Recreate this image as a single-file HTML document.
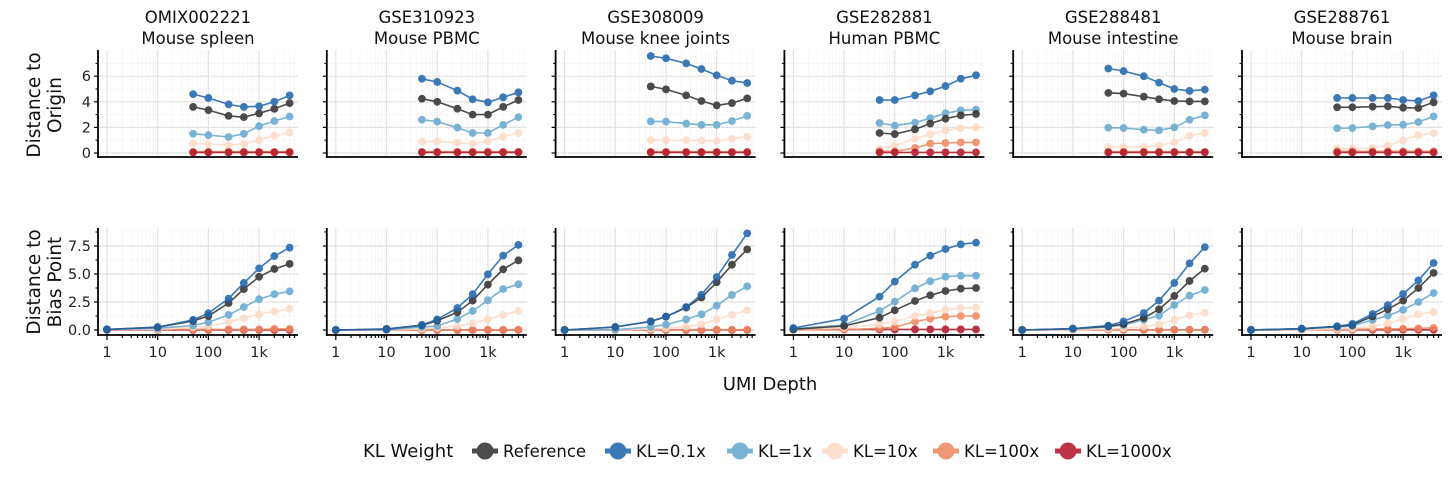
<!DOCTYPE html>
<html><head><meta charset="utf-8">
<style>
body{margin:0;background:#fff;}
svg{display:block;font-family:"DejaVu Sans","Liberation Sans",sans-serif;}
</style></head>
<body>
<svg id="chart" width="1456" height="482" xmlns="http://www.w3.org/2000/svg"></svg>
<script>
const datasets = ["OMIX002221","GSE310923","GSE308009","GSE282881","GSE288481","GSE288761"];
const tissues = ["Mouse spleen","Mouse PBMC","Mouse knee joints","Human PBMC","Mouse intestine","Mouse brain"];
const seriesNames = ["Reference","KL=0.1x","KL=1x","KL=10x","KL=100x","KL=1000x"];
const depthsTop = [50,100,250,500,1000,2000,4000];
const depthsBottom = [1,10,50,100,250,500,1000,2000,4000];
const xTickVals = [1,10,100,1000];
const xTickLabels = ["1","10","100","1k"];
const yTopTicks = [0,2,4,6];
const yTopTickLabels = ["0","2","4","6"];
const yBotTicks = [0,2.5,5,7.5];
const yBotTickLabels = ["0.0","2.5","5.0","7.5"];

const originRef = [
 [3.6,3.35,2.9,2.8,3.1,3.45,3.9],[4.24,4.0,3.46,3.0,3.0,3.6,4.14],[5.2,4.97,4.5,4.06,3.72,3.9,4.27],
 [1.56,1.48,1.85,2.3,2.68,2.94,3.05],[4.7,4.64,4.4,4.2,4.06,4.03,4.03],[3.57,3.57,3.62,3.65,3.54,3.52,3.96]];
const originKL01 = [
 [4.6,4.3,3.8,3.6,3.65,4.0,4.5],[5.8,5.55,4.87,4.2,3.96,4.35,4.74],[7.58,7.4,7.0,6.56,6.07,5.65,5.47],
 [4.14,4.14,4.5,4.82,5.23,5.8,6.07],[6.6,6.4,6.0,5.5,5.0,4.85,4.95],[4.3,4.3,4.3,4.3,4.14,4.06,4.5]];
const originKL1 = [
 [1.5,1.4,1.25,1.5,2.1,2.5,2.85],[2.6,2.45,1.98,1.56,1.56,2.2,2.8],[2.47,2.45,2.3,2.2,2.2,2.5,2.9],
 [2.34,2.14,2.37,2.73,3.1,3.33,3.39],[1.98,1.95,1.82,1.77,2.0,2.6,2.94],[1.93,1.95,2.08,2.19,2.21,2.42,2.86]];
const originKL10 = [
 [0.75,0.7,0.6,0.7,1.0,1.35,1.6],[0.9,0.9,0.8,0.73,0.9,1.28,1.56],[1.0,1.0,1.0,0.96,0.96,1.1,1.28],
 [0.34,0.57,1.1,1.48,1.77,1.93,1.98],[0.47,0.47,0.47,0.57,0.83,1.35,1.56],[0.34,0.34,0.39,0.57,0.99,1.38,1.56]];
const originKL100 = [
 [0.1,0.1,0.1,0.1,0.1,0.1,0.1],[0.1,0.1,0.1,0.1,0.1,0.1,0.1],[0.1,0.1,0.1,0.1,0.1,0.1,0.1],
 [0.13,0.13,0.4,0.73,0.78,0.83,0.83],[0.1,0.1,0.1,0.1,0.1,0.1,0.1],[0.13,0.13,0.13,0.13,0.13,0.13,0.13]];
const originKL1000 = [
 [0.05,0.05,0.05,0.05,0.05,0.05,0.05],[0.05,0.05,0.05,0.05,0.05,0.05,0.05],[0.05,0.05,0.05,0.05,0.05,0.05,0.05],
 [0.05,0.05,0.05,0.05,0.05,0.05,0.05],[0.05,0.05,0.05,0.05,0.05,0.05,0.05],[0.05,0.05,0.05,0.05,0.05,0.05,0.05]];

const biasRef = [
 [0.05,0.25,0.8,1.25,2.4,3.65,4.75,5.45,5.9],[0,0.1,0.42,0.83,1.58,2.62,4.05,5.42,6.22],[0,0.27,0.77,1.19,2.0,2.9,4.26,5.83,7.2],
 [0.06,0.36,1.1,1.76,2.59,3.1,3.48,3.69,3.75],[0,0.12,0.33,0.54,1.07,1.85,3.04,4.38,5.48],[0,0.12,0.3,0.45,1.22,1.85,2.62,3.75,5.1]];
const biasKL01 = [
 [0.05,0.25,0.9,1.5,2.8,4.2,5.5,6.6,7.35],[0,0.06,0.45,0.95,1.96,3.2,4.97,6.64,7.6],[0,0.27,0.77,1.19,2.05,3.15,4.73,6.7,8.63],
 [0.18,1.01,2.98,4.32,5.83,6.64,7.23,7.65,7.8],[0,0.12,0.39,0.77,1.52,2.62,4.2,5.95,7.4],[0,0.12,0.33,0.54,1.43,2.23,3.21,4.43,5.98]];
const biasKL1 = [
 [0.05,0.15,0.4,0.7,1.35,2.05,2.75,3.2,3.45],[0,0.03,0.27,0.36,0.98,1.7,2.65,3.66,4.08],[0,0.03,0.27,0.48,0.95,1.4,2.17,3.13,3.9],
 [0.12,0.45,1.7,2.53,3.72,4.35,4.76,4.85,4.85],[0,0.1,0.27,0.45,0.92,1.28,2.23,3.07,3.57],[0,0.1,0.27,0.36,0.9,1.28,1.8,2.5,3.3]];
const biasKL10 = [
 [0.05,0.05,0.25,0.35,0.7,1.05,1.4,1.65,1.9],[0,0,0.1,0.2,0.35,0.6,0.95,1.35,1.7],[0,0,0.1,0.15,0.3,0.5,0.95,1.35,1.75],
 [0.05,0.2,0.5,0.75,1.25,1.5,1.8,1.95,2.0],[0,0,0.1,0.15,0.3,0.5,0.9,1.3,1.55],[0,0.02,0.1,0.15,0.3,0.6,1.0,1.4,1.6]];
const biasKL100 = [
 [0.05,0.05,0.05,0.05,0.05,0.05,0.05,0.1,0.1],[0.02,0.02,0.02,0.02,0.02,0.02,0.02,0.02,0.02],[0.03,0.03,0.03,0.03,0.03,0.03,0.03,0.03,0.03],
 [0.02,0.02,0.15,0.25,0.75,1.0,1.2,1.25,1.25],[0.02,0.02,0.02,0.02,0.02,0.02,0.02,0.02,0.02],[0.02,0.02,0.05,0.05,0.1,0.1,0.12,0.15,0.2]];
const biasKL1000 = [
 [0,0,0,0,0,0,0,0,0],[0,0,0,0,0,0,0,0,0],[0,0,0,0,0,0,0,0,0],
 [0.05,0.05,0.05,0.05,0.05,0.05,0.05,0.05,0.05],[0.02,0.02,0.02,0.02,0.02,0.02,0.02,0.02,0.02],[0.02,0.02,0.02,0.02,0.02,0.02,0.02,0.02,0.02]];

const colors = ["#333333","#2166ac","#67a9cf","#fddbc7","#ef8a62","#b2182b"];
const NS = "http://www.w3.org/2000/svg";
const svg = document.getElementById("chart");
function el(tag, attrs, parent){const e=document.createElementNS(NS,tag);for(const k in attrs)e.setAttribute(k,attrs[k]);(parent||svg).appendChild(e);return e;}

const panelLeft0 = 98, panelStep = 228.8, plotW = 200;
function xScale(p, d){return panelLeft0 + p*panelStep + 9 + Math.log10(d)*50.7;}
const rows = [
 {y0:153, unit:12.8, top:50, bottom:157, ticks:yTopTicks, labels:yTopTickLabels, depths:depthsTop,
  series:[originRef,originKL01,originKL1,originKL10,originKL100,originKL1000], order:[5,4,3,2,0,1], name:"origin", title:["Distance to","Origin"], ty:105},
 {y0:330, unit:11.2, top:228, bottom:335, ticks:yBotTicks, labels:yBotTickLabels, depths:depthsBottom,
  series:[biasRef,biasKL01,biasKL1,biasKL10,biasKL100,biasKL1000], order:[5,4,3,2,0,1], name:"bias", title:["Distance to","Bias Point"], ty:282}
];
rows[0].order=[3,2,0,1,4,5];
rows[1].order=[5,4,3,2,0,1];

rows.forEach((r, ri) => {
  const yS = v => r.y0 - v*r.unit;
  for (let p=0; p<6; p++){
    const L = panelLeft0 + p*panelStep, R = L + plotW;
    const g = el("g", {});
    
    
    for (let dec=0; dec<4; dec++) for (let m=2; m<10; m++){
      const d=m*Math.pow(10,dec); const x=xScale(p,d); if (x>R) continue;
      el("line",{x1:x,x2:x,y1:r.top,y2:r.bottom,stroke:"#f3f3f3","stroke-width":0.6},g);
    }
    const step=r.ticks[1]-r.ticks[0];
    for (let v=step/2; yS(v)>r.top; v+=step){
      const y=yS(v);
      el("line",{x1:L,x2:R,y1:y,y2:y,stroke:"#f3f3f3","stroke-width":0.6},g);
    }
    xTickVals.forEach(d=>{const x=xScale(p,d);el("line",{x1:x,x2:x,y1:r.top,y2:r.bottom,stroke:"#e2e2e2","stroke-width":1.2},g);});
    r.ticks.forEach(v=>{const y=yS(v);el("line",{x1:L,x2:R,y1:y,y2:y,stroke:"#e2e2e2","stroke-width":1.2},g);});
    r.order.forEach(si => {
      const vals = r.series[si][p];
      const sg = el("g", {opacity:0.88}, g);
      
      
      const pts = vals.map((v,i)=>xScale(p,r.depths[i]).toFixed(1)+","+yS(v).toFixed(1)).join(" ");
      el("polyline",{points:pts,fill:"none",stroke:colors[si],"stroke-width":1.6},sg);
      vals.forEach((v,i)=>{
        const c = el("circle",{cx:xScale(p,r.depths[i]),cy:yS(v),r:3.9,fill:colors[si]},sg);
        
        
      });
    });
    el("line",{x1:L,x2:L,y1:r.top,y2:r.bottom+1,stroke:"#000","stroke-width":1.8},g);
    el("line",{x1:L,x2:R,y1:r.bottom,y2:r.bottom,stroke:"#000","stroke-width":1.8},g);
    r.ticks.forEach((v,i)=>{
      const y=yS(v);
      el("line",{x1:L-4,x2:L,y1:y,y2:y,stroke:"#000","stroke-width":1.2},g);
      if (p===0){
        const t=el("text",{x:L-7,y:y+5,"text-anchor":"end","font-size":14.5,fill:"#222"},g);
        t.textContent=r.labels[i];
        
        
      }
    });
    for (let v=step/2; yS(v)>r.top; v+=step){const y=yS(v);el("line",{x1:L-2.5,x2:L,y1:y,y2:y,stroke:"#000","stroke-width":1},g);}
    if (ri===1){
      for (let dec=0; dec<4; dec++) for (let m=1; m<10; m++){
        const d=m*Math.pow(10,dec); const x=xScale(p,d); if (x>R) continue;
        el("line",{x1:x,x2:x,y1:r.bottom,y2:r.bottom+(m===1?5:3),stroke:"#000","stroke-width":1.2},g);
      }
      xTickVals.forEach((d,i)=>{
        const t=el("text",{x:xScale(p,d),y:r.bottom+22,"text-anchor":"middle","font-size":14.5,fill:"#222"},g);
        t.textContent=xTickLabels[i];
        
        
      });
    } else {
      const cx=(L+R)/2;
      const t1=el("text",{x:cx,y:23,"text-anchor":"middle","font-size":16.5,fill:"#111"},g);
      t1.textContent=datasets[p];
      
      
      const t2=el("text",{x:cx,y:44,"text-anchor":"middle","font-size":16.5,fill:"#111"},g);
      t2.textContent=tissues[p];
      
      
    }
  }
  const yt=el("text",{transform:"translate(44,"+r.ty+") rotate(-90)","text-anchor":"middle","font-size":18.5,fill:"#111"});
  
  
  const a=el("tspan",{x:0,dy:-4},yt);a.textContent=r.title[0];
  const b=el("tspan",{x:0,dy:21},yt);b.textContent=r.title[1];
});

const xt=el("text",{x:770,y:390,"text-anchor":"middle","font-size":18,fill:"#111"});
xt.textContent="UMI Depth";



const legendX = [485,618,740,835,946,1068];
const lg=el("g",{});


const lt=el("text",{x:363,y:457,"font-size":18,fill:"#111"},lg);
lt.textContent="KL Weight";


seriesNames.forEach((n,i)=>{
  const e=el("g",{opacity:0.88},lg);
  
  
  el("line",{x1:legendX[i]-13,x2:legendX[i]+13,y1:451,y2:451,stroke:colors[i],"stroke-width":5},e);
  el("circle",{cx:legendX[i],cy:451,r:8.5,fill:colors[i]},e);
  const t=el("text",{x:legendX[i]+18,y:457,"font-size":16.5,fill:"#111"},lg);
  t.textContent=n;
});
</script>
</body></html>
